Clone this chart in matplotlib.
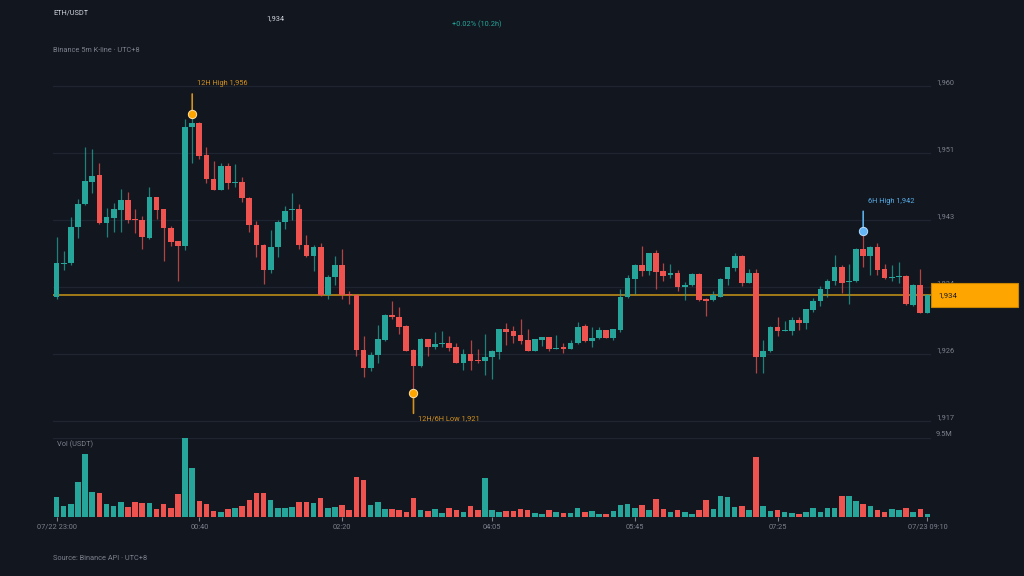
import matplotlib
matplotlib.use("Agg")
import matplotlib.pyplot as plt
from matplotlib.patches import Rectangle
import numpy as np
import pandas as pd

# ETH/USDT 5m candles, 07/22 23:00 -> 07/23 09:10 (UTC+8)
START = "2025-07-22 23:00"

opens = [
    1933.22, 1937.45, 1937.57, 1942.10, 1945.02, 1947.89, 1948.70, 1942.61, 1943.32, 1944.34,
    1945.57, 1943.07, 1943.03, 1940.78, 1945.91, 1944.39, 1942.01, 1940.33, 1939.69, 1954.79,
    1955.37, 1951.24, 1948.27, 1946.87, 1949.86, 1947.76, 1947.85, 1945.87, 1942.43, 1939.89,
    1936.68, 1939.60, 1942.74, 1944.29, 1944.46, 1939.89, 1938.50, 1939.56, 1933.48, 1935.76,
    1937.28, 1933.51, 1933.51, 1926.49, 1924.29, 1925.90, 1927.80, 1930.98, 1930.76, 1929.58,
    1926.54, 1924.50, 1927.89, 1926.92, 1927.33, 1927.46, 1926.88, 1924.92, 1926.03, 1925.27,
    1925.14, 1925.61, 1926.28, 1929.16, 1928.91, 1928.40, 1927.80, 1926.45, 1927.80, 1928.15,
    1926.70, 1926.92, 1926.70, 1927.39, 1929.58, 1927.64, 1928.02, 1929.07, 1928.06, 1929.07,
    1933.22, 1935.58, 1937.36, 1936.60, 1938.80, 1936.52, 1936.01, 1936.27, 1934.49, 1934.74,
    1936.18, 1933.04, 1932.88, 1933.30, 1935.58, 1936.94, 1938.46, 1935.07, 1936.34, 1925.61,
    1926.37, 1929.49, 1928.98, 1928.98, 1930.34, 1929.92, 1931.61, 1932.71, 1934.24, 1935.25,
    1937.03, 1935.16, 1935.25, 1939.39, 1938.46, 1939.64, 1936.77, 1935.71, 1935.80, 1935.92,
    1932.28, 1934.82, 1931.27,
]
highs = [
    1940.91, 1939.10, 1943.37, 1945.65, 1952.33, 1952.00, 1950.30, 1944.55, 1945.15, 1946.96,
    1946.58, 1944.46, 1943.54, 1947.25, 1945.95, 1944.45, 1942.27, 1940.40, 1955.80, 1956.48,
    1955.45, 1952.25, 1950.55, 1950.30, 1950.30, 1950.13, 1948.52, 1945.96, 1942.94, 1939.95,
    1941.76, 1943.03, 1944.80, 1946.49, 1945.06, 1941.16, 1939.82, 1940.07, 1936.01, 1938.46,
    1939.39, 1933.98, 1933.60, 1928.31, 1926.28, 1929.67, 1931.05, 1932.75, 1931.95, 1929.65,
    1926.70, 1928.06, 1927.95, 1928.82, 1928.98, 1928.36, 1927.46, 1926.70, 1927.80, 1926.70,
    1928.53, 1926.54, 1929.24, 1930.00, 1929.58, 1930.43, 1929.24, 1927.97, 1928.22, 1928.20,
    1928.48, 1927.46, 1927.80, 1930.09, 1929.83, 1929.49, 1929.42, 1929.12, 1929.24, 1934.31,
    1936.01, 1937.45, 1939.73, 1938.88, 1939.22, 1937.61, 1937.45, 1936.68, 1935.16, 1936.34,
    1936.25, 1933.13, 1933.98, 1935.67, 1937.10, 1938.80, 1938.55, 1936.77, 1936.77, 1927.80,
    1929.58, 1930.76, 1930.26, 1930.68, 1930.68, 1931.78, 1933.13, 1934.65, 1935.50, 1938.63,
    1937.36, 1937.45, 1939.48, 1941.60, 1939.73, 1940.07, 1937.45, 1937.28, 1937.70, 1936.01,
    1934.91, 1936.77, 1933.60,
]
lows = [
    1933.04, 1936.65, 1937.35, 1940.78, 1944.90, 1946.49, 1942.55, 1940.83, 1941.54, 1941.54,
    1942.61, 1941.34, 1939.31, 1940.66, 1943.12, 1937.87, 1939.73, 1935.33, 1939.22, 1950.22,
    1950.76, 1947.68, 1946.80, 1946.80, 1947.00, 1947.18, 1945.28, 1941.54, 1938.37, 1934.91,
    1936.34, 1938.37, 1941.89, 1943.03, 1939.39, 1938.37, 1936.56, 1933.39, 1932.97, 1934.78,
    1933.04, 1932.37, 1925.81, 1923.15, 1923.91, 1924.92, 1927.64, 1930.51, 1928.57, 1926.40,
    1921.04, 1924.34, 1925.77, 1926.62, 1926.95, 1926.45, 1924.85, 1923.98, 1924.06, 1924.85,
    1923.40, 1922.89, 1925.36, 1927.13, 1927.39, 1927.30, 1926.40, 1926.40, 1927.04, 1926.45,
    1926.62, 1926.19, 1926.62, 1927.30, 1927.55, 1926.88, 1927.95, 1928.00, 1927.80, 1928.82,
    1933.15, 1933.64, 1935.92, 1936.01, 1934.24, 1935.25, 1935.67, 1933.98, 1932.88, 1934.65,
    1932.80, 1930.85, 1932.80, 1933.22, 1934.74, 1936.60, 1934.65, 1935.00, 1923.58, 1923.66,
    1926.30, 1928.31, 1928.91, 1928.40, 1929.07, 1929.16, 1931.36, 1932.12, 1933.22, 1934.82,
    1933.73, 1932.37, 1935.20, 1937.12, 1936.09, 1936.09, 1935.60, 1935.25, 1935.00, 1932.30,
    1932.12, 1931.20, 1931.20,
]
closes = [
    1937.53, 1937.55, 1942.10, 1945.02, 1947.94, 1948.61, 1942.61, 1943.37, 1944.39, 1945.57,
    1943.03, 1942.99, 1940.87, 1945.91, 1944.34, 1941.98, 1940.28, 1939.69, 1954.87, 1955.37,
    1951.18, 1948.19, 1946.87, 1949.86, 1947.76, 1947.85, 1945.78, 1942.39, 1939.86, 1936.68,
    1939.64, 1942.77, 1944.21, 1944.42, 1939.86, 1938.50, 1939.56, 1933.48, 1935.76, 1937.28,
    1933.55, 1933.48, 1926.49, 1924.29, 1925.94, 1927.89, 1931.01, 1930.72, 1929.49, 1926.45,
    1924.54, 1927.89, 1926.88, 1927.26, 1927.46, 1926.79, 1924.92, 1926.03, 1925.18, 1925.18,
    1925.69, 1926.37, 1929.16, 1928.86, 1928.31, 1927.72, 1926.45, 1927.89, 1928.15, 1926.62,
    1926.83, 1926.70, 1927.46, 1929.49, 1927.64, 1928.10, 1929.07, 1928.06, 1929.16, 1933.30,
    1935.67, 1937.36, 1936.60, 1938.80, 1936.43, 1935.92, 1936.30, 1934.49, 1934.82, 1936.18,
    1932.88, 1932.79, 1933.48, 1935.58, 1937.03, 1938.46, 1935.00, 1936.34, 1925.61, 1926.45,
    1929.49, 1928.91, 1929.07, 1930.34, 1929.92, 1931.70, 1932.79, 1934.31, 1935.33, 1937.03,
    1935.07, 1935.29, 1939.39, 1938.46, 1939.64, 1936.68, 1935.67, 1935.80, 1935.89, 1932.37,
    1934.82, 1931.27, 1933.55,
]
# volume in million USDT
volumes = [
    2.41, 1.28, 1.60, 4.17, 7.54, 3.05, 2.89, 1.60, 1.36, 1.76,
    1.20, 1.84, 1.68, 1.68, 0.96, 1.52, 1.04, 2.73, 9.46, 5.85,
    1.92, 1.60, 0.72, 0.64, 0.96, 1.12, 1.36, 2.09, 2.89, 2.89,
    2.00, 1.12, 1.12, 1.20, 1.76, 1.76, 1.68, 2.33, 1.04, 1.20,
    1.44, 0.80, 4.81, 4.41, 1.44, 1.76, 0.96, 0.96, 0.88, 0.64,
    2.33, 0.80, 0.72, 0.96, 0.48, 1.04, 0.80, 0.64, 1.36, 0.88,
    4.65, 0.80, 0.56, 0.72, 0.72, 0.96, 0.80, 0.48, 0.40, 0.80,
    0.56, 0.48, 0.48, 1.04, 0.56, 0.72, 0.40, 0.32, 0.72, 1.44,
    1.60, 1.12, 1.44, 0.88, 2.17, 0.96, 0.64, 0.88, 0.64, 0.40,
    0.88, 2.00, 0.96, 2.57, 2.41, 1.20, 1.36, 0.80, 7.22, 1.28,
    0.72, 0.88, 0.64, 0.48, 0.40, 0.56, 1.12, 0.64, 1.12, 1.12,
    2.49, 2.49, 1.92, 1.60, 1.28, 0.80, 0.64, 0.96, 0.80, 1.12,
    0.64, 0.96, 0.32,
]
price_ticks = [1917.49, 1925.99, 1934.49, 1942.99, 1951.49, 1959.99]

BG = "#11161f"
GRID = "#1f2530"
UP = "#26a69a"
DOWN = "#ef5350"
TEXT = "#d1d4dc"
MUTED = "#7d818c"
ORANGE = "#ffa500"
BLUE = "#64b5f6"
FS = 5.3

plt.rcParams["font.family"] = ["Roboto", "DejaVu Sans"]

df = pd.DataFrame({"open": opens, "high": highs, "low": lows, "close": closes, "vol": volumes})
df["time"] = pd.date_range(START, periods=len(df), freq="5min")
n = len(df)
x = np.arange(n)
up = df["close"] >= df["open"]
colors = np.where(up, UP, DOWN)

fig = plt.figure(figsize=(10.24, 5.76), dpi=100, facecolor=BG)
ax = fig.add_axes([53 / 1024, 146 / 576, 878 / 1024, 360 / 576])
axv = fig.add_axes([53 / 1024, 59 / 576, 878 / 1024, 79 / 576], sharex=ax)

for a in (ax, axv):
    a.set_facecolor(BG)
    for s in a.spines.values():
        s.set_visible(False)
    a.yaxis.tick_right()
    a.grid(axis="y", color=GRID, lw=0.9)
    a.set_axisbelow(True)

# candles
ax.vlines(x, df["low"], df["high"], colors=colors, lw=0.9, alpha=0.75, zorder=2)
body_low = np.minimum(df["open"], df["close"])
body_h = np.maximum((df["close"] - df["open"]).abs(), 0.12)
ax.bar(x, body_h, bottom=body_low, width=0.8, color=colors, zorder=3)

last_close = df["close"].iloc[-1]
ax.axhline(last_close, color="#a27a18", lw=1.4, zorder=1.5)

ax.set_xlim(-0.5, n - 0.5)
ax.set_ylim(1916.39, 1962.06)
ax.set_yticks(price_ticks)
ax.set_yticklabels([f"{v:,.0f}" for v in price_ticks])
ax.tick_params(axis="y", length=0, pad=3.6, labelsize=FS, labelcolor=MUTED)
ax.tick_params(axis="x", bottom=False, labelbottom=False)
for lbl in ax.get_yticklabels():
    lbl.set_va("bottom")


def mark(i, price, text, color, stem_color, above):
    sign = 1 if above else -1
    ax.annotate("", xy=(i, price), xytext=(0, sign * 14.4), textcoords="offset points",
                arrowprops=dict(arrowstyle="-", color=stem_color, lw=1.2, shrinkA=0, shrinkB=0),
                zorder=4)
    ax.plot(i, price, "o", ms=6, color=color, mec="#ffe2a8" if color == ORANGE else "#b8dcfa",
            mew=0.7, zorder=5)
    ax.annotate(text, xy=(i, price), xytext=(3.5, 21.6 if above else -18.5),
                textcoords="offset points", color=stem_color, fontsize=FS, va="center", ha="left")


hi_i = int(df["high"].idxmax())
lo_i = int(df["low"].idxmin())
six_h = 72
h6_i = n - six_h + int(np.argmax(df["high"].values[-six_h:]))
mark(hi_i, df["high"][hi_i], f"12H High {df['high'][hi_i]:,.0f}", ORANGE, "#d4911e", True)
mark(lo_i, df["low"][lo_i], f"12H/6H Low {df['low'][lo_i]:,.0f}", ORANGE, "#d4911e", False)
mark(h6_i, df["high"][h6_i], f"6H High {df['high'][h6_i]:,.0f}", BLUE, "#5aaee8", True)

# volume
vmax = df["vol"].max()
axv.bar(x, df["vol"], width=0.78, color=colors, zorder=2)
axv.set_ylim(0, vmax)
axv.set_yticks([vmax])
axv.set_yticklabels([f"{vmax:.1f}M"])
axv.tick_params(axis="y", length=0, pad=3.6, labelsize=FS, labelcolor=MUTED)
for lbl in axv.get_yticklabels():
    lbl.set_va("bottom")
axv.text(0.005, 0.92, "Vol (USDT)", transform=axv.transAxes, color=MUTED, fontsize=FS, va="center")

tick_idx = np.linspace(0, n - 1, 7).astype(int)
tick_lbl = [df["time"][i].strftime("%m/%d %H:%M" if i in (0, n - 1) else "%H:%M") for i in tick_idx]
axv.set_xticks(tick_idx)
axv.set_xticklabels(tick_lbl)
axv.tick_params(axis="x", length=3, width=0.8, color=MUTED, pad=2, labelsize=FS, labelcolor=MUTED)

# header
chg = (last_close / df["open"].iloc[0] - 1) * 100
hours = n * 5 / 60
fig.text(53 / 1024, 1 - 13.3 / 576, "ETH/USDT", color=TEXT, fontsize=FS, va="center")
fig.text(275.7 / 1024, 1 - 18.7 / 576, f"{last_close:,.0f}", color=TEXT, fontsize=FS, va="center", ha="center")
fig.text(477 / 1024, 1 - 24 / 576, f"{chg:+.2f}% ({hours:.1f}h)", color=UP, fontsize=FS, va="center", ha="center")
fig.text(53 / 1024, 1 - 50.7 / 576, "Binance 5m K-line · UTC+8", color=MUTED, fontsize=FS, va="center")
fig.text(53 / 1024, 1 - 559 / 576, "Source: Binance API · UTC+8", color=MUTED, fontsize=FS, va="center")

# last price tag
y_fig = ax.transData.transform((0, last_close))[1] / fig.bbox.height
fig.add_artist(Rectangle((931 / 1024, y_fig - 12 / 576), 87 / 1024, 24 / 576, transform=fig.transFigure,
                         facecolor=ORANGE, edgecolor="#c98400", lw=0.8))
fig.text(938 / 1024, y_fig, f"{last_close:,.0f}", color="#1b1b1b", fontsize=FS + 0.3, va="center")

fig.savefig("out.png", dpi=100, facecolor=BG)
